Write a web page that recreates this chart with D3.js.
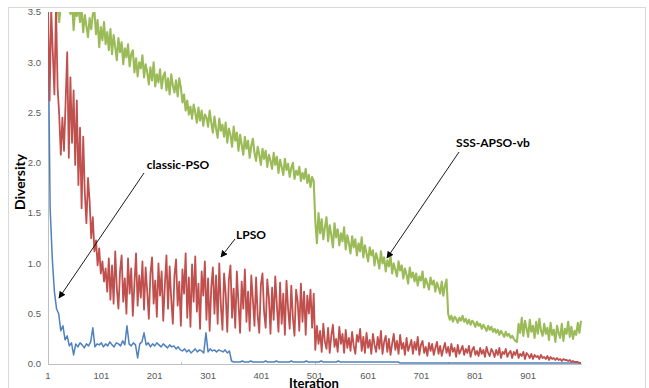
<!DOCTYPE html>
<html>
<head>
<meta charset="utf-8">
<script src="https://cdn.jsdelivr.net/npm/d3@7"></script>
<style>
  html, body { margin: 0; padding: 0; background: #fff; }
  svg { display: block; }
  .tick-label { font-family: "Liberation Sans", Arial, sans-serif; font-size: 9.5px; fill: #595959; }
  .axis-title { font-family: Lato, "Open Sans", sans-serif; font-weight: bold; font-size: 14px; fill: #000; }
  .x-title { font-size: 13px; }
  .note { font-family: Lato, "Open Sans", sans-serif; font-weight: bold; font-size: 12px; fill: #000; }
</style>
</head>
<body>
<div id="chart"></div>
<script>
// Swarm diversity per iteration.
// classic-PSO sampled every 4 iterations (1, 5, ... 997),
// LPSO and SSS-APSO-vb sampled every 3 iterations (1, 4, ... 1000).

const classicPSO = [
  3.50,1.55,1.05,0.72,0.55,0.50,0.33,0.38,0.24,0.28,
  0.18,0.21,0.09,0.20,0.17,0.21,0.19,0.16,0.20,0.18,
  0.22,0.36,0.17,0.20,0.19,0.21,0.17,0.20,0.18,0.22,
  0.19,0.17,0.21,0.20,0.18,0.23,0.19,0.38,0.20,0.18,
  0.21,0.19,0.06,0.20,0.22,0.31,0.19,0.21,0.17,0.20,
  0.18,0.21,0.19,0.17,0.20,0.18,0.16,0.19,0.17,0.18,
  0.15,0.17,0.14,0.13,0.15,0.12,0.14,0.11,0.13,0.15,
  0.12,0.14,0.13,0.11,0.31,0.12,0.15,0.13,0.14,0.12,
  0.14,0.13,0.12,0.14,0.11,0.13,0.03,0.02,0.02,0.02,
  0.02,0.03,0.02,0.02,0.02,0.03,0.02,0.02,0.02,0.02,
  0.02,0.02,0.03,0.02,0.02,0.02,0.02,0.03,0.02,0.02,
  0.02,0.02,0.02,0.02,0.03,0.02,0.02,0.02,0.02,0.02,
  0.02,0.03,0.02,0.02,0.02,0.02,0.02,0.02,0.03,0.02,
  0.02,0.02,0.02,0.02,0.02,0.02,0.03,0.02,0.02,0.02,
  0.02,0.02,0.02,0.02,0.02,0.02,0.02,0.02,0.02,0.02,
  0.02,0.02,0.02,0.02,0.02,0.02,0.02,0.02,0.02,0.02,
  0.02,0.02,0.02,0.02,0.02,0.01,0.01,0.01,0.01,0.01,
  0.01,0.01,0.01,0.01,0.01,0.01,0.01,0.01,0.01,0.01,
  0.01,0.01,0.01,0.01,0.01,0.01,0.01,0.01,0.01,0.01,
  0.01,0.01,0.01,0.01,0.01,0.01,0.01,0.01,0.01,0.01,
  0.01,0.01,0.01,0.01,0.01,0.01,0.01,0.01,0.01,0.01,
  0.01,0.01,0.01,0.01,0.01,0.01,0.01,0.01,0.01,0.01,
  0.01,0.01,0.01,0.01,0.01,0.01,0.01,0.01,0.01,0.01,
  0.01,0.01,0.01,0.01,0.01,0.01,0.01,0.01,0.01,0.01,
  0.01,0.01,0.01,0.01,0.01,0.01,0.01,0.01,0.01,0.01
];

const lpso = [
  3.55,2.62,3.52,3.10,2.68,3.56,2.75,2.48,2.08,2.45,
  2.12,2.60,3.10,2.05,2.85,2.20,2.72,1.98,2.62,1.78,
  2.35,1.55,2.26,1.70,1.40,1.85,1.62,1.25,1.46,1.12,
  1.23,0.98,1.15,0.90,1.02,0.82,0.95,0.72,1.05,0.64,
  0.98,0.60,1.12,0.75,0.55,0.92,1.08,0.62,0.85,0.50,
  1.05,0.70,0.95,0.48,0.80,1.10,0.58,0.88,0.66,1.02,
  0.54,0.96,0.72,0.45,0.90,1.06,0.60,0.83,0.47,1.00,
  0.68,0.92,0.43,0.78,1.08,0.55,0.97,0.64,0.40,0.88,
  1.04,0.58,0.82,0.38,0.94,0.70,1.10,0.46,0.86,0.37,
  0.99,0.62,1.07,0.52,0.80,0.35,0.92,0.68,1.02,0.44,
  0.85,0.33,0.76,0.96,0.50,0.88,0.40,1.00,0.58,0.34,
  0.90,0.70,0.32,0.84,0.98,0.46,0.75,0.36,0.92,0.60,
  0.31,0.82,0.55,0.94,0.42,0.72,0.33,0.88,0.64,0.38,
  0.86,0.48,0.31,0.79,0.90,0.52,0.36,0.84,0.66,0.30,
  0.76,0.44,0.87,0.58,0.32,0.81,0.40,0.70,0.29,0.83,
  0.55,0.35,0.78,0.46,0.28,0.74,0.62,0.33,0.80,0.42,
  0.72,0.29,0.68,0.50,0.74,0.36,0.70,0.14,0.38,0.20,
  0.33,0.12,0.40,0.22,0.15,0.36,0.11,0.28,0.39,0.17,
  0.25,0.12,0.37,0.20,0.30,0.11,0.34,0.16,0.26,0.13,
  0.32,0.18,0.10,0.29,0.22,0.35,0.13,0.27,0.11,0.31,
  0.16,0.24,0.10,0.30,0.19,0.12,0.27,0.15,0.33,0.10,
  0.22,0.28,0.12,0.25,0.09,0.20,0.30,0.14,0.23,0.10,
  0.29,0.15,0.21,0.09,0.26,0.13,0.18,0.24,0.10,0.22,
  0.14,0.27,0.09,0.19,0.23,0.11,0.17,0.08,0.21,0.13,
  0.20,0.09,0.16,0.22,0.10,0.18,0.08,0.15,0.21,0.11,
  0.17,0.08,0.20,0.12,0.16,0.07,0.19,0.10,0.14,0.18,
  0.09,0.15,0.11,0.18,0.07,0.14,0.17,0.09,0.13,0.08,
  0.16,0.10,0.14,0.07,0.17,0.11,0.08,0.15,0.12,0.07,
  0.14,0.09,0.16,0.06,0.12,0.10,0.15,0.07,0.11,0.13,
  0.06,0.12,0.09,0.14,0.06,0.10,0.08,0.12,0.05,0.11,
  0.09,0.06,0.10,0.05,0.09,0.07,0.08,0.05,0.09,0.06,
  0.07,0.05,0.08,0.04,0.07,0.05,0.06,0.04,0.06,0.04,
  0.05,0.03,0.05,0.04,0.04,0.03,0.04,0.02,0.03,0.02,
  0.02,0.02,0.01,0.01
];

const sssApsoVb = [
  3.60,3.56,3.64,3.52,3.58,3.62,3.55,3.40,3.58,3.63,
  3.55,3.60,3.52,3.58,3.48,3.61,3.32,3.54,3.46,3.57,
  3.40,3.52,3.30,3.47,3.36,3.25,3.44,3.33,3.48,3.51,
  3.28,3.42,3.15,3.35,3.22,3.40,3.18,3.30,3.12,3.33,
  3.08,3.27,3.15,3.02,3.24,3.10,3.20,2.98,3.14,3.05,
  3.18,2.96,3.08,3.12,2.90,3.04,2.86,3.00,2.94,3.07,
  2.85,2.98,2.90,2.78,2.95,2.82,3.00,2.76,2.88,2.80,
  2.93,2.74,2.86,2.90,2.72,2.84,2.68,2.88,2.77,2.70,
  2.82,2.66,2.84,2.75,2.60,2.68,2.52,2.62,2.48,2.56,
  2.44,2.58,2.50,2.40,2.55,2.42,2.52,2.37,2.48,2.45,
  2.36,2.52,2.40,2.30,2.46,2.34,2.25,2.44,2.32,2.38,
  2.26,2.40,2.20,2.34,2.28,2.16,2.36,2.22,2.30,2.12,
  2.28,2.18,2.08,2.26,2.14,2.22,2.05,2.17,2.24,2.10,
  2.02,2.16,2.08,1.98,2.14,2.04,2.12,1.96,2.08,2.02,
  1.94,2.10,1.98,2.06,1.90,2.03,1.96,1.88,2.04,1.93,
  1.99,1.86,1.95,2.00,1.84,1.92,1.88,1.96,1.82,1.90,
  1.84,1.94,1.80,1.88,1.76,1.86,1.82,1.42,1.20,1.50,
  1.30,1.44,1.24,1.36,1.46,1.22,1.38,1.28,1.16,1.40,
  1.26,1.34,1.18,1.30,1.22,1.36,1.14,1.28,1.20,1.10,
  1.27,1.16,1.24,1.08,1.20,1.12,1.26,1.06,1.18,1.10,
  1.02,1.16,1.08,1.13,0.98,1.10,1.04,0.95,1.12,1.00,
  1.06,0.92,1.03,0.97,1.08,0.90,1.00,0.94,0.87,1.02,
  0.93,0.98,0.85,0.95,0.89,0.80,0.96,0.86,0.91,0.82,
  0.90,0.78,0.87,0.83,0.92,0.76,0.85,0.80,0.74,0.86,
  0.79,0.83,0.72,0.81,0.76,0.70,0.82,0.68,0.78,0.84,
  0.50,0.44,0.48,0.42,0.47,0.45,0.41,0.46,0.43,0.48,
  0.42,0.45,0.40,0.44,0.39,0.43,0.41,0.37,0.42,0.38,
  0.40,0.35,0.39,0.36,0.33,0.38,0.34,0.37,0.32,0.35,
  0.31,0.34,0.29,0.33,0.30,0.27,0.32,0.28,0.30,0.26,
  0.28,0.25,0.23,0.22,0.40,0.31,0.46,0.28,0.43,0.35,
  0.27,0.44,0.32,0.38,0.26,0.42,0.30,0.45,0.33,0.28,
  0.40,0.30,0.36,0.24,0.41,0.29,0.34,0.22,0.38,0.31,
  0.26,0.40,0.23,0.35,0.30,0.42,0.27,0.37,0.25,0.33,
  0.29,0.41,0.31,0.43
];

const xTickLabels = [1, 101, 201, 301, 401, 501, 601, 701, 801, 901];
const xTickMarks = [1, 251, 501, 751];
const yTickValues = [0, 0.5, 1.0, 1.5, 2.0, 2.5, 3.0, 3.5];

// drawn in this order: blue first, green last
const series = [
  { name: "classic-PSO", values: classicPSO, step: 4, color: "#4F81BD", width: 1.5 },
  { name: "LPSO",        values: lpso,       step: 3, color: "#C0504D", width: 1.8 },
  { name: "SSS-APSO-vb", values: sssApsoVb,  step: 3, color: "#9BBB59", width: 2.1 }
];

const W = 649, H = 388;
const plot = { left: 48, right: 581, top: 12, bottom: 364 };

const svg = d3.select("#chart").append("svg")
  .attr("width", W).attr("height", H);

// chart frame
svg.append("rect")
  .attr("x", 8.5).attr("y", 7.5)
  .attr("width", 637).attr("height", 400)
  .attr("fill", "#fff").attr("stroke", "#D9D9D9").attr("stroke-width", 1);

const x = d3.scaleLinear().domain([1, 1000]).range([plot.left, plot.right]);
const y = d3.scaleLinear().domain([0, 3.5]).range([plot.bottom, plot.top]);

svg.append("clipPath").attr("id", "plot-clip")
  .append("rect")
  .attr("x", plot.left).attr("y", plot.top)
  .attr("width", plot.right - plot.left + 2)
  .attr("height", plot.bottom - plot.top);

// axis lines
svg.append("line")
  .attr("x1", plot.left + 0.5).attr("x2", plot.left + 0.5)
  .attr("y1", plot.top).attr("y2", plot.bottom)
  .attr("stroke", "#BFBFBF");
svg.append("line")
  .attr("x1", plot.left).attr("x2", plot.right + 1)
  .attr("y1", plot.bottom + 0.5).attr("y2", plot.bottom + 0.5)
  .attr("stroke", "#BFBFBF");

svg.selectAll(".xmark").data(xTickMarks).join("line")
  .attr("class", "xmark")
  .attr("x1", d => Math.round(x(d)) + 0.5).attr("x2", d => Math.round(x(d)) + 0.5)
  .attr("y1", plot.bottom - 2).attr("y2", plot.bottom)
  .attr("stroke", "#BFBFBF");

// tick labels
svg.selectAll(".ylab").data(yTickValues).join("text")
  .attr("class", "tick-label")
  .attr("x", plot.left - 7)
  .attr("y", d => y(d))
  .attr("dy", "0.35em")
  .attr("text-anchor", "end")
  .text(d => d3.format(".1f")(d));

svg.selectAll(".xlab").data(xTickLabels).join("text")
  .attr("class", "tick-label")
  .attr("x", d => x(d))
  .attr("y", plot.bottom + 12)
  .attr("dy", "0.35em")
  .attr("text-anchor", "middle")
  .text(d => d);

// axis titles
svg.append("text").attr("class", "axis-title x-title")
  .attr("x", 314).attr("y", 388)
  .attr("text-anchor", "middle")
  .text("Iteration");
svg.append("text").attr("class", "axis-title")
  .attr("transform", "translate(25,182) rotate(-90)")
  .attr("text-anchor", "middle")
  .text("Diversity");

// series lines
const lines = svg.append("g").attr("clip-path", "url(#plot-clip)");
lines.selectAll("path").data(series).join("path")
  .attr("d", s => d3.line()
      .x((d, i) => x(1 + i * s.step))
      .y(d => y(d))(s.values))
  .attr("fill", "none")
  .attr("stroke", s => s.color)
  .attr("stroke-width", s => s.width)
  .attr("stroke-linejoin", "round");

// callouts
const defs = svg.append("defs");
defs.append("marker")
  .attr("id", "arrow")
  .attr("viewBox", "0 0 10 10")
  .attr("refX", 9).attr("refY", 5)
  .attr("markerWidth", 7).attr("markerHeight", 7)
  .attr("markerUnits", "userSpaceOnUse")
  .attr("orient", "auto")
  .append("path").attr("d", "M0,0 L10,5 L0,10 z").attr("fill", "#000");

const callouts = [
  { label: "classic-PSO", tx: 178, ty: 165, x1: 144, y1: 173, x2: 59, y2: 298 },
  { label: "LPSO",        tx: 251, ty: 235, x1: 235, y1: 239, x2: 221, y2: 257 },
  { label: "SSS-APSO-vb", tx: 493, ty: 143, x1: 459, y1: 152, x2: 387, y2: 258 }
];

svg.selectAll(".callout-line").data(callouts).join("line")
  .attr("x1", d => d.x1).attr("y1", d => d.y1)
  .attr("x2", d => d.x2).attr("y2", d => d.y2)
  .attr("stroke", "#000").attr("stroke-width", 0.9)
  .attr("marker-end", "url(#arrow)");

svg.selectAll(".note").data(callouts).join("text")
  .attr("class", "note")
  .attr("x", d => d.tx).attr("y", d => d.ty)
  .attr("dy", "0.35em")
  .attr("text-anchor", "middle")
  .text(d => d.label);
</script>
</body>
</html>
